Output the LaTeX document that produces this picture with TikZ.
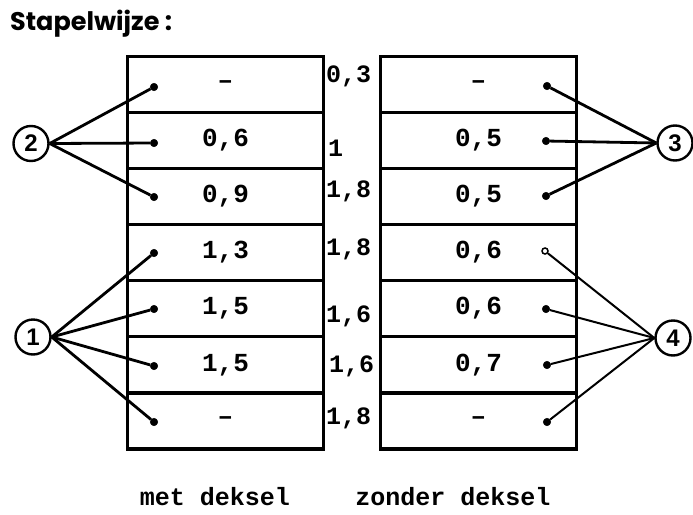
\documentclass[tikz,border=0pt]{standalone}
\usepackage{fontspec}
\newfontfamily\titlefont{Poppins}
\newfontfamily\tw{Liberation Mono}
\newfontfamily\cf{Liberation Sans}
\begin{document}
\begin{tikzpicture}[x=1pt,y=-1pt,
  rowbox/.style={draw, line width=3.2pt, minimum width=196pt, minimum height=56pt,
    inner sep=0pt, font=\tw\bfseries\fontsize{26}{26}\selectfont},
  midlab/.style={anchor=west, inner sep=0pt, font=\tw\bfseries\fontsize{25}{25}\selectfont},
  botlab/.style={anchor=base, inner sep=0pt, font=\tw\bfseries\fontsize{25}{25}\selectfont},
  dot/.style={circle, fill, draw, line width=0.5pt, minimum size=7.5pt, inner sep=0pt},
  odot/.style={circle, draw, fill=white, line width=1.5pt, minimum size=6pt, inner sep=0pt},
  num/.style={circle, draw, line width=2.4pt, minimum size=35pt, inner sep=0pt,
    font=\cf\bfseries\fontsize{24}{24}\selectfont},
  conn/.style={line width=2.8pt},
  thinconn/.style={line width=2pt}]
\useasboundingbox (0,0) rectangle (693,514);

% title
\node[anchor=base west, inner sep=0pt, font=\titlefont\bfseries\fontsize{25.5}{26}\selectfont]
  (title) at (10,30) {Stapelwijze :};

% left stack (met deksel)
\node[rowbox] (L1) at (225.5,84.1) {–};
\node[rowbox] (L2) at (225.5,140.2) {0,6};
\node[rowbox] (L3) at (225.5,196.4) {0,9};
\node[rowbox] (L4) at (225.5,252.5) {1,3};
\node[rowbox] (L5) at (225.5,308.6) {1,5};
\node[rowbox] (L6) at (225.5,364.8) {1,5};
\node[rowbox] (L7) at (225.5,420.9) {–};

% right stack (zonder deksel)
\node[rowbox] (R1) at (478.5,84.1) {–};
\node[rowbox] (R2) at (478.5,140.2) {0,5};
\node[rowbox] (R3) at (478.5,196.4) {0,5};
\node[rowbox] (R4) at (478.5,252.5) {0,6};
\node[rowbox] (R5) at (478.5,308.6) {0,6};
\node[rowbox] (R6) at (478.5,364.8) {0,7};
\node[rowbox] (R7) at (478.5,420.9) {–};

% middle values
\node[midlab] (m1) at (326,76) {0,3};
\node[midlab] (m2) at (328,148) {1};
\node[midlab] (m3) at (326,191) {1,8};
\node[midlab] (m4) at (326,249) {1,8};
\node[midlab] (m5) at (326,316) {1,6};
\node[midlab] (m6) at (329,366) {1,6};
\node[midlab] (m7) at (326,418) {1,8};

% dots left
\node[dot] (dL1) at (154,87) {};
\node[dot] (dL2) at (154,143) {};
\node[dot] (dL3) at (154,197) {};
\node[dot] (dL4) at (154,253) {};
\node[dot] (dL5) at (154,309) {};
\node[dot] (dL6) at (154,366) {};
\node[dot] (dL7) at (154,422) {};

% dots right
\node[dot] (dR1) at (547,86) {};
\node[dot] (dR2) at (546,141) {};
\node[dot] (dR3) at (546,196) {};
\node[odot] (dR4) at (545,251) {};
\node[dot] (dR5) at (546,309) {};
\node[dot] (dR6) at (547,365) {};
\node[dot] (dR7) at (547,422) {};

% numbered circles
\node[num] (c2) at (31,143.5) {2};
\node[num] (c1) at (33,337) {1};
\node[num] (c3) at (675,143) {3};
\node[num] (c4) at (673,338) {4};

% connectors
\foreach \d in {dL1,dL2,dL3} \draw[conn] (c2.east) -- (\d);
\foreach \d in {dL4,dL5,dL6,dL7} \draw[conn] (c1.east) -- (\d);
\foreach \d in {dR1,dR2,dR3} \draw[conn] (c3.west) -- (\d);
\foreach \d in {dR4,dR5,dR6,dR7} \draw[thinconn] (c4.west) -- (\d);

% bottom labels
\node[botlab] (bl) at (215,505) {met deksel};
\node[botlab] (br) at (453,505) {zonder deksel};
\end{tikzpicture}
\end{document}
